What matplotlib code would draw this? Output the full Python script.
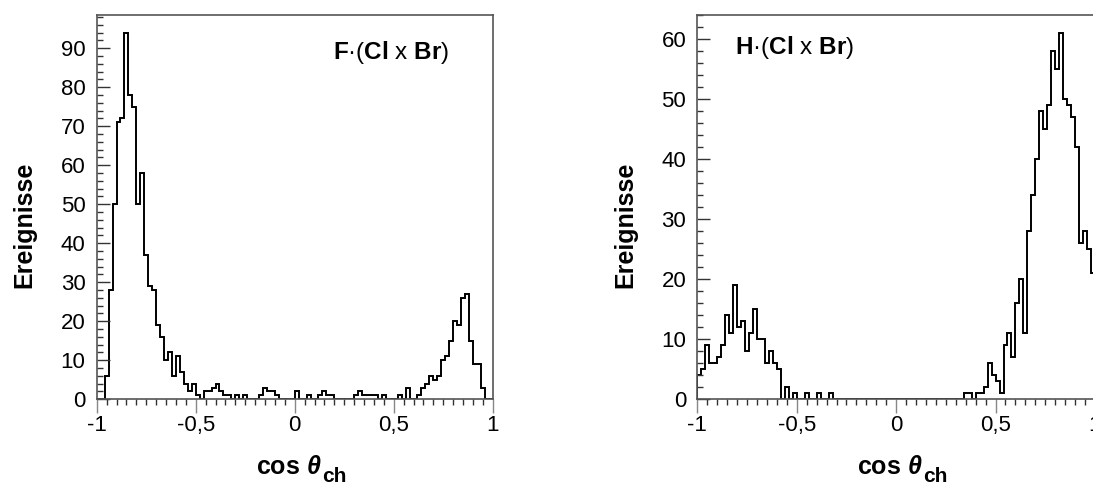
import numpy as np
import matplotlib
matplotlib.use('Agg')
import matplotlib.pyplot as plt
from matplotlib.ticker import MultipleLocator, FixedLocator

plt.rcParams['font.family'] = ['Liberation Sans', 'DejaVu Sans']
plt.rcParams['mathtext.fontset'] = 'custom'
plt.rcParams['mathtext.rm'] = 'Liberation Sans'
plt.rcParams['mathtext.bf'] = 'Liberation Sans:bold'
plt.rcParams['mathtext.it'] = 'Liberation Sans:bold:italic'

# 100 bins of width 0.02 in cos(theta_ch), from -1 to 1
edges = np.linspace(-1.0, 1.0, 101)

# F.(Cl x Br)
counts_F = [0, 0, 6, 28, 50, 71, 72, 94, 78, 75,
            50, 58, 37, 29, 28, 19, 16, 10, 12, 6,
            11, 7, 4, 2, 4, 1, 0, 2, 2, 3,
            4, 2, 1, 1, 0, 1, 0, 1, 0, 0,
            0, 1, 3, 2, 2, 1, 0, 0, 0, 0,
            2, 0, 0, 1, 0, 0, 1, 2, 1, 1,
            0, 0, 0, 0, 0, 1, 2, 1, 1, 1,
            1, 0, 1, 0, 0, 0, 1, 0, 3, 0,
            0, 1, 3, 4, 6, 5, 6, 10, 11, 15,
            20, 19, 26, 27, 15, 9, 9, 3, 0, 0]

# H.(Cl x Br)
counts_H = [4, 5, 9, 6, 6, 7, 9, 14, 11, 19,
            12, 13, 8, 11, 15, 10, 10, 6, 8, 6,
            5, 0, 2, 0, 1, 0, 0, 1, 0, 0,
            1, 0, 0, 1, 0, 0, 0, 0, 0, 0,
            0, 0, 0, 0, 0, 0, 0, 0, 0, 0,
            0, 0, 0, 0, 0, 0, 0, 0, 0, 0,
            0, 0, 0, 0, 0, 0, 0, 1, 1, 0,
            1, 1, 2, 6, 4, 3, 1, 9, 11, 7,
            16, 20, 11, 28, 34, 40, 48, 45, 49, 58,
            55, 61, 50, 49, 47, 42, 26, 28, 25, 21]

xticks = [-1, -0.5, 0, 0.5, 1]
xtick_labels = ['-1', '-0,5', '0', '0,5', '1']

labels = [r'$\mathbf{F}$·($\mathbf{Cl}$ x $\mathbf{Br}$)',
          r'$\mathbf{H}$·($\mathbf{Cl}$ x $\mathbf{Br}$)']


def style_axis(ax, ymax):
    ax.set_xlim(-1, 1)
    ax.set_ylim(0, ymax)
    ax.xaxis.set_major_locator(FixedLocator(xticks))
    ax.set_xticklabels(xtick_labels)
    ax.xaxis.set_minor_locator(MultipleLocator(0.05))
    ax.yaxis.set_major_locator(MultipleLocator(10))
    ax.yaxis.set_minor_locator(MultipleLocator(2))
    ax.tick_params(axis='x', which='major', direction='out', length=10,
                   width=1, color='#888888', pad=1, labelsize=16)
    ax.tick_params(axis='x', which='minor', direction='out', length=4, width=1,
                   color='#333333')
    ax.tick_params(axis='y', which='major', direction='in', length=9,
                   width=1, pad=8, labelsize=16, color='#333333')
    ax.tick_params(axis='y', which='minor', direction='in', length=4.5,
                   width=1, color='#333333')
    for s in ax.spines.values():
        s.set_color('#555555')
        s.set_linewidth(1.2)
    # "cos theta" as the axis label, subscript "ch" set next to it
    ax.set_xlabel(r'cos $\theta$', fontsize=18, fontweight='bold')
    ax.xaxis.label.set_va('baseline')
    ax.xaxis.set_label_coords(0.484, -0.195)
    ax.text(0.568, -0.215, 'ch', transform=ax.transAxes, fontsize=15,
            fontweight='bold', ha='left', va='baseline')
    ax.set_ylabel('Ereignisse', fontsize=18, fontweight='bold')
    ax.yaxis.set_label_coords(-0.152, 0.4535)


fig = plt.figure(figsize=(10.93, 4.84), dpi=100)
ax1 = fig.add_axes([0.0885, 0.175, 0.3623, 0.794])
ax2 = fig.add_axes([0.638, 0.175, 0.3638, 0.794])

ax1.stairs(counts_F, edges, color='black', linewidth=1.4)
ax2.stairs(counts_H, edges, color='black', linewidth=1.4)

style_axis(ax1, 98.5)
style_axis(ax2, 64)

ax1.text(0.597, 0.886, labels[0], transform=ax1.transAxes, fontsize=17.5,
         ha='left', va='baseline')
ax2.text(0.095, 0.898, labels[1], transform=ax2.transAxes, fontsize=17.5,
         ha='left', va='baseline')

fig.savefig('out.png', dpi=100)
plt.close()
